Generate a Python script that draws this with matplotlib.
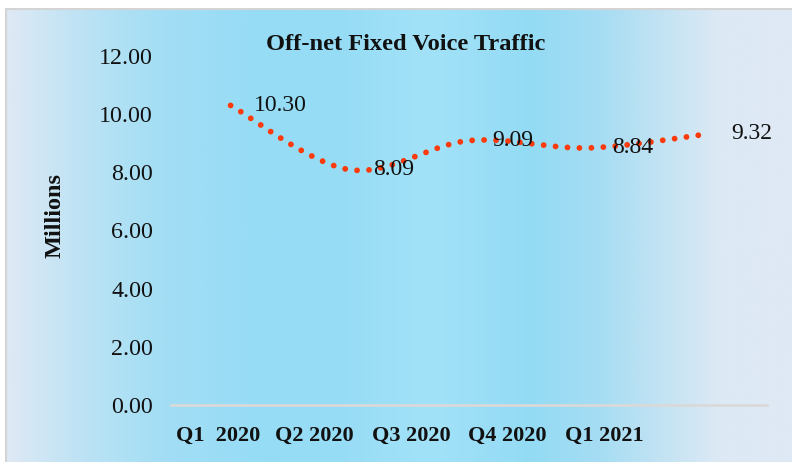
import numpy as np
import matplotlib
matplotlib.use("Agg")
import matplotlib.pyplot as plt
from matplotlib.colors import LinearSegmentedColormap

# ---- data ----
categories = ["Q1  2020", "Q2 2020", "Q3 2020", "Q4 2020", "Q1 2021"]
values = [10.30, 8.09, 9.09, 8.84, 9.32]
title = "Off-net Fixed Voice Traffic"
ylabel = "Millions"
yticks = [0, 2, 4, 6, 8, 10, 12]

W, H = 792, 462
fig = plt.figure(figsize=(W / 100, H / 100), dpi=100)
fig.patch.set_facecolor("white")

# ---- gradient background ----
bg = fig.add_axes([0, 0, 1, 1], zorder=0)
bg.set_xlim(0, W)
bg.set_ylim(H, 0)
bg.axis("off")
stops_px = [7, 80, 160, 260, 330, 430, 530, 600, 660, 720, 792]
stops_col = ["#DEE9F5", "#BDE3F4", "#A3DEF5", "#96DCF5", "#96DCF5", "#A2E2F8",
             "#93DBF4", "#A6DDF3", "#C2E3F3", "#DDE9F5", "#DFE9F5"]
cmap = LinearSegmentedColormap.from_list(
    "g", [((p - 7) / (792 - 7), c) for p, c in zip(stops_px, stops_col)])
grad = np.linspace(0, 1, 800)[None, :]
bg.imshow(grad, cmap=cmap, aspect="auto", extent=(7, W + 2, H + 2, 10), zorder=0)
bg.plot([6, 6], [H + 2, 9], color="#D4D4D4", lw=1.5, zorder=1)
bg.plot([6, W + 2], [9, 9], color="#D4D4D4", lw=1.5, zorder=1)
bg.set_xlim(0, W)
bg.set_ylim(H, 0)

# ---- main axes ----
left, right, bottom_px, top_px = 171, 767, 405, 56
ax = fig.add_axes([left / W, 1 - bottom_px / H, (right - left) / W, (bottom_px - top_px) / H], zorder=2)
ax.patch.set_alpha(0)
n = len(categories)
x = np.arange(n)
ax.set_xlim(-0.5, n - 0.5)
ax.set_ylim(0, 12)

# smoothed curve (Bezier, Excel-style)
def smooth(xs, ys, per=60):
    P = np.column_stack([xs, ys]).astype(float)
    Pe = np.vstack([P[0], P, P[-1]])
    out = []
    for i in range(len(P) - 1):
        p0, p3 = P[i], P[i + 1]
        c1 = p0 + (Pe[i + 2] - Pe[i]) / 6
        c2 = p3 - (Pe[i + 3] - Pe[i + 1]) / 6
        t = np.linspace(0, 1, per)[:, None]
        seg = (1 - t) ** 3 * p0 + 3 * (1 - t) ** 2 * t * c1 + 3 * (1 - t) * t ** 2 * c2 + t ** 3 * p3
        out.append(seg if i == 0 else seg[1:])
    S = np.vstack(out)
    return S[:, 0], S[:, 1]

sx, sy = smooth(x, values)
ax.plot(sx, sy, color="#FA3A0A", lw=4.2, linestyle=(0, (0.001, 2.05)),
        dash_capstyle="round", solid_capstyle="round")

serif = ["Liberation Serif", "DejaVu Serif"]
for xi, v in zip(x, values):
    ax.annotate(f"{v:.2f}", (xi, v), xytext=(17, 0), textcoords="offset points",
                ha="left", va="center", fontsize=17, family=serif, color="#111111")

# axes styling
for s in ["top", "right", "left"]:
    ax.spines[s].set_visible(False)
ax.spines["bottom"].set_color("#D9D9D9")
ax.spines["bottom"].set_linewidth(2)
ax.set_yticks(yticks)
ax.set_yticklabels([f"{t:.2f}" for t in yticks], fontsize=17.3, family=serif, color="#111111")
ax.tick_params(axis="y", length=0, pad=13)
label_pos = -0.106 + 0.81 * np.arange(n)
ax.set_xticks(label_pos)
ax.set_xticklabels(categories, fontsize=16, family=serif, fontweight="bold", color="#111111")
ax.tick_params(axis="x", length=0, pad=15)

fig.text(406 / W, 1 - 44 / H, title, ha="center", va="center", fontsize=17.6,
         family=serif, fontweight="bold", color="#111111")
fig.text(55 / W, 1 - 215 / H, ylabel, ha="center", va="center", rotation=90,
         fontsize=17.5, family=serif, fontweight="bold", color="#111111")

fig.savefig("out.png", dpi=100)
